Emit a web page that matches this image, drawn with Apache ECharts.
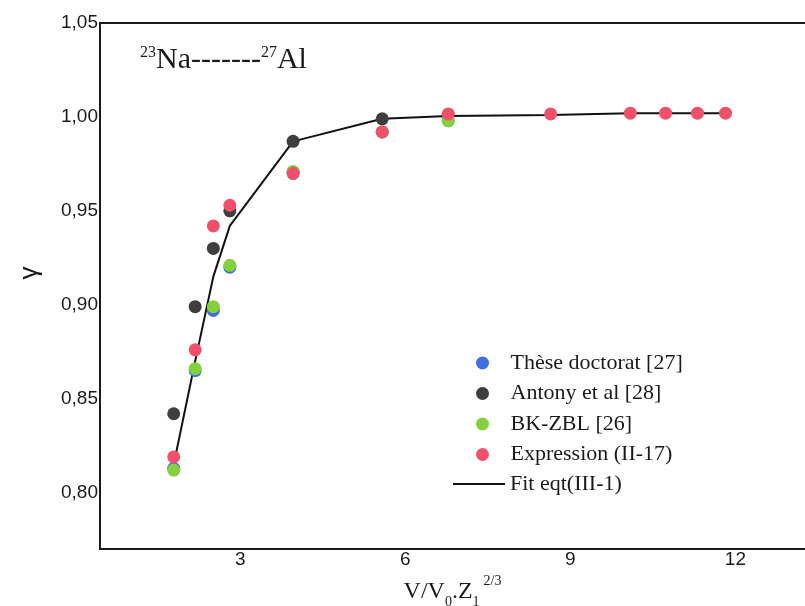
<!DOCTYPE html>
<html>
<head>
<meta charset="utf-8">
<script src="https://cdn.jsdelivr.net/npm/echarts@6/dist/echarts.min.js"></script>
<style>
  html, body { margin: 0; padding: 0; background: #fff; }
  #chart { width: 805px; height: 606px; }
</style>
</head>
<body>
<div id="chart"></div>
<script>
// Stopping ratio gamma for 23Na in 27Al versus reduced velocity V/V0.Z1^(2/3)
const theseX = [1.79, 2.18, 2.51, 2.81, 3.96, 5.58, 6.78];
const theseY = [0.813, 0.865, 0.897, 0.920, 0.970, 0.992, 0.998];

const antonyX = [1.79, 2.18, 2.51, 2.81, 3.96, 5.58, 6.78];
const antonyY = [0.842, 0.899, 0.930, 0.950, 0.987, 0.999, 1.001];

const bkzblX = [1.79, 2.18, 2.51, 2.81, 3.96, 5.58, 6.78];
const bkzblY = [0.812, 0.866, 0.899, 0.921, 0.971, 0.992, 0.998];

const exprX = [1.79, 2.18, 2.51, 2.81, 3.96, 5.58, 6.78, 8.64, 10.09, 10.73, 11.31, 11.82];
const exprY = [0.819, 0.876, 0.942, 0.953, 0.970, 0.992, 1.0016, 1.0016, 1.002, 1.002, 1.002, 1.002];

const fitX = [1.79, 2.18, 2.51, 2.81, 3.96, 5.58, 6.78, 8.64, 10.09, 10.73, 11.31, 11.82];
const fitY = [0.815, 0.870, 0.915, 0.942, 0.987, 0.999, 1.0005, 1.001, 1.002, 1.002, 1.002, 1.002];

const xTicks = [3, 6, 9, 12];
const yTicks = [0.80, 0.85, 0.90, 0.95, 1.00, 1.05];

const pairs = (xs, ys) => xs.map((x, i) => [x, ys[i]]);

const serif = '"Liberation Serif", "Times New Roman", serif';
const sans = '"Liberation Sans", Arial, sans-serif';
const ink = '#1a1a1a';

const chart = echarts.init(document.getElementById('chart'), null, { renderer: 'canvas' });

const scatter = (name, color, data) => ({
  name: name,
  type: 'scatter',
  data: data,
  symbol: 'circle',
  symbolSize: 13,
  itemStyle: { color: color, opacity: 1 },
  z: 3
});

chart.setOption({
  animation: false,
  backgroundColor: '#ffffff',
  title: {
    left: 135,
    top: 40,
    text: '{sup|23}{main|Na-------}{sup|27}{main|Al}',
    textStyle: {
      fontWeight: 'normal',
      rich: {
        main: { fontFamily: serif, fontSize: 30, fontWeight: 'normal', color: ink, verticalAlign: 'bottom' },
        sup: { fontFamily: serif, fontSize: 16, fontWeight: 'normal', color: ink, verticalAlign: 'top', padding: [0, 0, 14, 0] }
      }
    }
  },
  grid: {
    left: 100,
    top: 23,
    bottom: 57,
    right: -30,
    outerBoundsMode: 'none',
    containLabel: false,
    show: true,
    borderColor: ink,
    borderWidth: 2,
    backgroundColor: 'transparent'
  },
  legend: [
    {
      left: 471,
      top: 347,
      orient: 'vertical',
      itemWidth: 46,
      itemHeight: 13,
      itemGap: 8.5,
      icon: 'circle',
      data: ['Thèse doctorat [27]', 'Antony et al [28]', 'BK-ZBL [26]', 'Expression (II-17)'],
      textStyle: { fontFamily: serif, fontSize: 22, lineHeight: 22, color: ink }
    },
    {
      left: 448,
      top: 468,
      orient: 'vertical',
      itemWidth: 52,
      itemHeight: 2,
      symbolKeepAspect: false,
      data: [{ name: 'Fit eqt(III-1)', icon: 'rect' }],
      textStyle: { fontFamily: serif, fontSize: 22, lineHeight: 22, color: ink }
    }
  ],
  xAxis: {
    type: 'value',
    min: 0.45,
    max: 13.81,
    axisLine: { show: false },
    axisTick: { show: false },
    splitLine: { show: false },
    axisLabel: {
      customValues: xTicks,
      margin: 1,
      fontFamily: sans,
      fontSize: 19,
      color: ink
    },
    name: '{v|V/V}{sub|0}{v|.Z}{sub|1}{sup|2/3}',
    nameLocation: 'middle',
    nameGap: 20,
    nameTextStyle: {
      padding: [0, 30, 0, 0],
      rich: {
        v: { fontFamily: serif, fontSize: 24, color: ink, verticalAlign: 'bottom' },
        sub: { fontFamily: serif, fontSize: 14, color: ink, verticalAlign: 'bottom', padding: [0, 0, -5, 0] },
        sup: { fontFamily: serif, fontSize: 14, color: ink, verticalAlign: 'top', padding: [0, 0, 16, 4] }
      }
    }
  },
  yAxis: {
    type: 'value',
    min: 0.77,
    max: 1.05,
    axisLine: { show: false },
    axisTick: { show: false },
    splitLine: { show: false },
    axisLabel: {
      margin: 2,
      fontFamily: sans,
      fontSize: 19,
      color: ink,
      customValues: yTicks,
      formatter: v => v.toFixed(2).replace('.', ',')
    },
    name: 'γ',
    nameLocation: 'middle',
    nameGap: 57,
    nameRotate: 90,
    nameTextStyle: {
      fontFamily: sans,
      fontSize: 26,
      color: ink,
      padding: [0, 0, 0, 26]
    }
  },
  series: [
    {
      name: 'Fit eqt(III-1)',
      type: 'line',
      data: pairs(fitX, fitY),
      symbol: 'none',
      lineStyle: { color: '#111111', width: 2 },
      itemStyle: { color: '#111111' },
      z: 2
    },
    scatter('Thèse doctorat [27]', '#3f6fe0', pairs(theseX, theseY)),
    scatter('Antony et al [28]', '#3e3e40', pairs(antonyX, antonyY)),
    scatter('BK-ZBL [26]', '#84cf3c', pairs(bkzblX, bkzblY)),
    scatter('Expression (II-17)', '#f0506a', pairs(exprX, exprY))
  ]
});
</script>
</body>
</html>
